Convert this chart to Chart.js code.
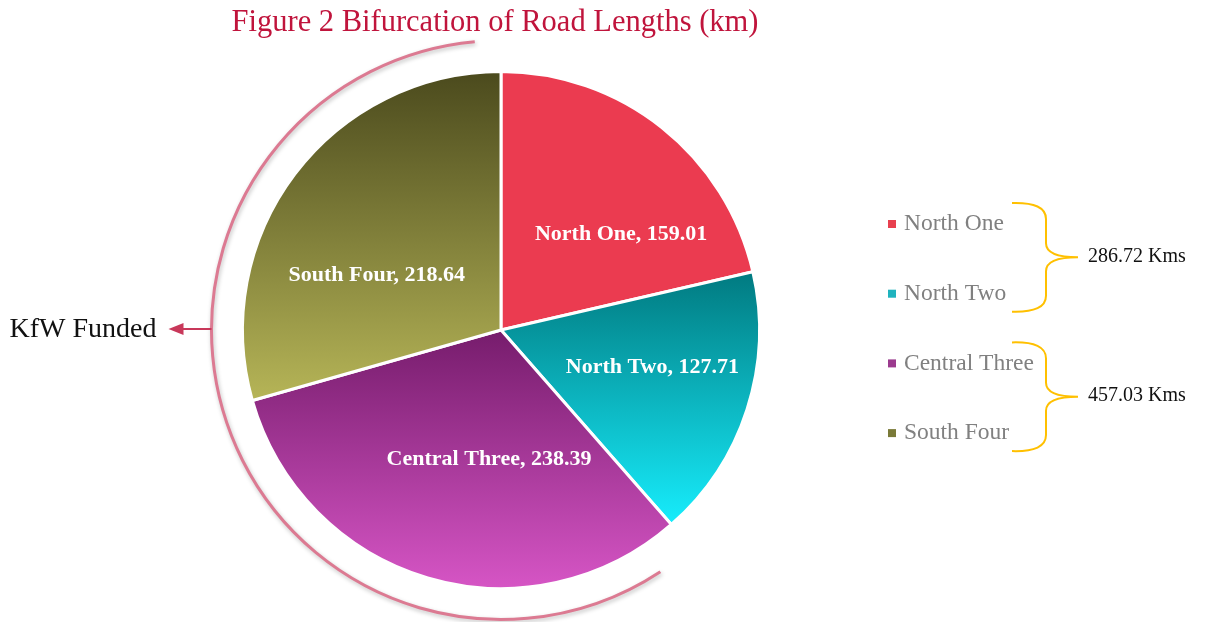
<!DOCTYPE html>
<html>
<head>
<meta charset="utf-8">
<script src="https://cdn.jsdelivr.net/npm/chart.js@4"></script>
<style>
  body { margin: 0; background: #fff; }
  #wrap { width: 1208px; height: 622px; }
</style>
</head>
<body>
<div id="wrap"><canvas id="roadChart" width="1208" height="622"></canvas></div>
<script>
// chart data
var labels = ["North One", "North Two", "Central Three", "South Four"];
var lengths = [159.01, 127.71, 238.39, 218.64];
var topColors = ["#EB3B50", "#017A80", "#761C6C", "#4B4A1D"];
var bottomColors = ["#EB3B50", "#17EDFC", "#D655C5", "#B6B557"];
var legendColors = ["#E8404F", "#1FB3BE", "#9B3A8E", "#7A7A38"];
var groupText = ["286.72 Kms", "457.03 Kms"];
var groupRows = [[0, 1], [2, 3]];
var titleText = "Figure 2 Bifurcation of Road Lengths (km)";
var sideText = "KfW Funded";

// label placement style: turn from slice middle (deg) and share of radius
var labelTurn = [13.1, -4.1, -11.2, -13.2];
var labelDist = [0.593, 0.603, 0.502, 0.526];

var SERIF = "'Liberation Serif', 'DejaVu Serif', serif";

function total() {
  var t = 0;
  for (var i = 0; i < lengths.length; i++) t += lengths[i];
  return t;
}

// vertical gradient spanning each slice's own height
function sliceGradient(ctx) {
  var chart = ctx.chart;
  var i = ctx.dataIndex;
  var area = chart.chartArea;
  if (!area) return topColors[i];
  var cx = (area.left + area.right) / 2;
  var cy = (area.top + area.bottom) / 2;
  var r = (Math.min(area.right - area.left, area.bottom - area.top) - 3) / 2;
  var before = 0;
  for (var k = 0; k < i; k++) before += lengths[k];
  var a0 = -Math.PI / 2 + before / total() * Math.PI * 2;
  var a1 = a0 + lengths[i] / total() * Math.PI * 2;
  var ys = [cy, cy + r * Math.sin(a0), cy + r * Math.sin(a1)];
  if (a0 <= Math.PI / 2 && a1 >= Math.PI / 2) ys.push(cy + r);
  if (a0 <= -Math.PI / 2 + 1e-6 && a1 >= -Math.PI / 2) ys.push(cy - r);
  if (a0 <= Math.PI * 1.5 && a1 >= Math.PI * 1.5) ys.push(cy - r);
  var minY = Math.min.apply(null, ys);
  var maxY = Math.max.apply(null, ys);
  var g = chart.ctx.createLinearGradient(0, minY, 0, maxY);
  g.addColorStop(0, topColors[i]);
  g.addColorStop(1, bottomColors[i]);
  return g;
}

var decorations = {
  id: "decorations",
  afterDatasetsDraw: function(chart) {
    var ctx = chart.ctx;
    var meta = chart.getDatasetMeta(0);
    var first = meta.data[0];
    var cx = first.x, cy = first.y, R = first.outerRadius;

    // slice labels
    ctx.save();
    ctx.fillStyle = "#ffffff";
    ctx.font = "bold 22px " + SERIF;
    ctx.textAlign = "center";
    ctx.textBaseline = "middle";
    meta.data.forEach(function(arc, i) {
      var mid = (arc.startAngle + arc.endAngle) / 2 + labelTurn[i] * Math.PI / 180;
      var d = R * labelDist[i];
      ctx.fillText(labels[i] + ", " + lengths[i].toFixed(2), arc.x + Math.cos(mid) * d, arc.y + Math.sin(mid) * d);
    });
    ctx.restore();

    // title
    ctx.save();
    ctx.fillStyle = "#C0143C";
    ctx.font = "30.5px " + SERIF;
    ctx.textAlign = "center";
    ctx.textBaseline = "middle";
    ctx.fillText(titleText, cx - 6, 23);
    ctx.restore();

    // outer arc around the KfW slices
    ctx.save();
    ctx.strokeStyle = "#DC7A92";
    ctx.lineWidth = 3;
    ctx.shadowColor = "rgba(0,0,0,0.25)";
    ctx.shadowBlur = 4;
    ctx.shadowOffsetX = 1;
    ctx.shadowOffsetY = 2;
    ctx.beginPath();
    ctx.arc(cx, cy, R + 31, -95.2 * Math.PI / 180, 56.6 * Math.PI / 180, true);
    ctx.stroke();
    ctx.restore();

    // arrow and side label
    var ax = cx - R - 31;
    ctx.save();
    ctx.strokeStyle = "#C8385A";
    ctx.fillStyle = "#C8385A";
    ctx.lineWidth = 2;
    ctx.beginPath();
    ctx.moveTo(ax, cy - 1);
    ctx.lineTo(ax - 30, cy - 1);
    ctx.stroke();
    ctx.beginPath();
    ctx.moveTo(ax - 43, cy - 1);
    ctx.lineTo(ax - 28, cy - 7);
    ctx.lineTo(ax - 28, cy + 5);
    ctx.closePath();
    ctx.fill();
    ctx.fillStyle = "#111111";
    ctx.font = "28px " + SERIF;
    ctx.textAlign = "right";
    ctx.textBaseline = "middle";
    ctx.fillText(sideText, ax - 55, cy);
    ctx.restore();

    // legend
    var lx = 888, y0 = 224, step = 69.7;
    ctx.save();
    ctx.font = "23.5px " + SERIF;
    ctx.textBaseline = "middle";
    ctx.textAlign = "left";
    labels.forEach(function(lab, i) {
      var y = y0 + i * step;
      ctx.fillStyle = legendColors[i];
      ctx.fillRect(lx, y - 4, 8, 8);
      ctx.fillStyle = "#808080";
      ctx.fillText(lab, lx + 16, y);
    });
    ctx.restore();

    // braces with group totals
    ctx.save();
    ctx.strokeStyle = "#FFC000";
    ctx.lineWidth = 2;
    groupRows.forEach(function(rows, g) {
      var top = y0 + rows[0] * step - 21;
      var bot = y0 + rows[1] * step + 18;
      var tip = (top + bot) / 2;
      var xl = 1012, xm = 1046, xt = 1078;
      ctx.beginPath();
      ctx.moveTo(xl, top);
      ctx.quadraticCurveTo(xm, top - 1, xm, top + 16);
      ctx.lineTo(xm, tip - 14);
      ctx.quadraticCurveTo(xm, tip, xt, tip);
      ctx.quadraticCurveTo(xm, tip, xm, tip + 14);
      ctx.lineTo(xm, bot - 16);
      ctx.quadraticCurveTo(xm, bot + 1, xl, bot);
      ctx.stroke();
      ctx.fillStyle = "#111111";
      ctx.font = "20px " + SERIF;
      ctx.textBaseline = "middle";
      ctx.fillText(groupText[g], 1088, tip - 1);
    });
    ctx.restore();
  }
};

new Chart("roadChart", {
  type: "pie",
  data: {
    labels: labels,
    datasets: [{
      data: lengths,
      backgroundColor: sliceGradient,
      borderColor: "#ffffff",
      borderWidth: 3
    }]
  },
  options: {
    responsive: false,
    animation: false,
    layout: { padding: { left: 241, right: 447, top: 70, bottom: 32 } },
    plugins: {
      legend: { display: false },
      title: { display: false },
      tooltip: { enabled: false }
    }
  },
  plugins: [decorations]
});
</script>
</body>
</html>
